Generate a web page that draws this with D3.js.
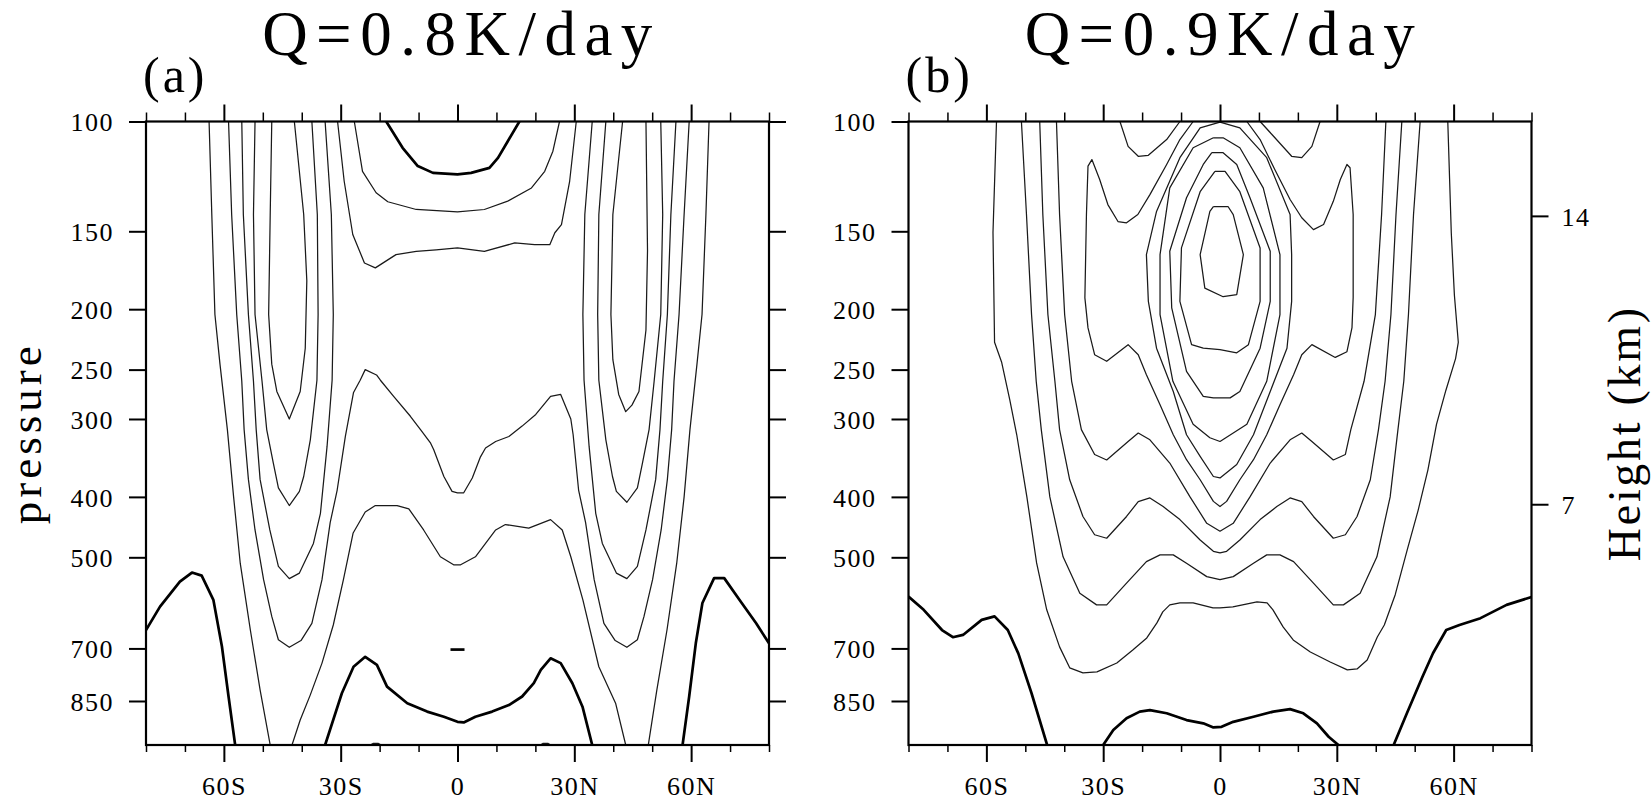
<!DOCTYPE html>
<html>
<head>
<meta charset="utf-8">
<script src="https://cdn.jsdelivr.net/npm/d3@7"></script>
<style>
  html, body { margin: 0; padding: 0; background: #fff; }
  svg { display: block; }
  text { font-family: "Liberation Serif", "Times New Roman", serif; fill: #000; }
</style>
</head>
<body>
<svg id="chart" width="1652" height="807"></svg>
<script>
// ---------- axis ticks and labels ----------
const pressureTicks = [100, 150, 200, 250, 300, 400, 500, 700, 850];
const latMajor = [-60, -30, 0, 30, 60];
const latMajorLabels = ["60S", "30S", "0", "30N", "60N"];
const latMinor = [-80, -70, -50, -40, -20, -10, 10, 20, 40, 50, 70, 80];
const heightKm = [14, 7];
const heightHpa = [141.7, 411];
const titles = ["Q=0.8K/day", "Q=0.9K/day"];
const panelTags = ["(a)", "(b)"];

// ---------- panel (a) contours: [latitude, pressure hPa] ----------
const a_cap = [[-18.3,100],[-14.1,110.2],[-10.2,117.9],[-6.3,120.9],[0,121.6],[3.5,120.9],[8.2,118.7],[10.4,114.4],[15.9,100]];
const a_c140 = [[-26.5,100],[-24.4,120.2],[-20.9,130.1],[-17.9,134.5],[-10.6,138.4],[0,139.6],[6.9,138.4],[12.9,134.2],[19.0,127.8],[22.4,120.2],[24.5,111.6],[26.2,100]];
const a_c160 = [[-30.8,100],[-29.1,124.7],[-26.9,151.8],[-23.9,168.6],[-21.1,171.7],[-15.8,163.5],[-10.6,161.5],[-5.5,160.6],[0,159.5],[6.9,161.5],[14.7,156.6],[19.8,157.6],[23.7,157.6],[25.0,150.8],[26.7,146.3],[28.8,124.7],[30.5,100]];
const a_u1S = [[-47.7,100],[-48.1,141],[-48.5,204],[-47.7,245],[-46.4,271],[-43.2,300],[-40.4,271],[-39.1,231],[-38.7,180],[-39.5,141],[-41.9,100]];
const a_u2S = [[-52.0,100],[-52.4,141],[-52.0,204],[-50.2,261],[-49.0,312],[-47.3,353],[-46.0,387],[-43.2,413],[-40.6,392],[-39.5,371],[-37.8,324],[-36.1,260],[-35.8,204],[-36.0,141],[-37.4,100]];
const a_u3S = [[-55.4,100],[-55.0,141],[-53.7,204],[-52.4,261],[-51.7,312],[-50.7,375],[-48.2,452],[-46.0,517],[-43.2,541],[-40.6,530],[-37.0,475],[-35.2,425],[-33.5,332],[-32.2,260],[-31.9,204],[-32.4,141],[-34.0,100]];
const a_u1N = [[42.4,100],[39.9,141],[39.4,204],[39.9,241],[41.4,274],[43.2,292],[44.8,285],[46.6,271],[48.4,216],[48.8,161],[48.4,100]];
const a_u2N = [[38.1,100],[36.3,141],[36.0,204],[36.3,260],[38.1,324],[39.8,371],[40.8,392],[43.5,408],[46.2,387],[47.5,353],[49.2,312],[50.5,261],[52.2,204],[52.7,141],[52.2,100]];
const a_u3N = [[34.6,100],[32.7,141],[32.2,204],[32.5,260],[33.8,332],[35.5,425],[37.2,475],[40.8,530],[43.5,541],[46.2,517],[48.4,452],[50.9,375],[52.0,312],[52.7,261],[53.9,204],[54.8,141],[56.1,100]];
const a_wide = [[-58.8,100],[-58.0,141],[-56.7,204],[-55.4,261],[-54.8,312],[-53.7,375],[-52.0,452],[-49.8,543],[-47.7,622],[-46.0,678],[-43.2,697],[-40.2,680],[-37.4,638],[-34.8,543],[-32.7,440],[-30.9,390],[-28.8,320],[-26.7,272],[-25.0,260],[-23.7,250],[-20.8,255],[-19.8,260],[-16.4,276],[-12.1,297],[-9.5,312],[-6.9,328],[-6.1,336],[-3.5,371],[-1.4,392],[0,394],[1.6,394],[3.8,373],[5.9,345],[7.2,334],[9.8,326],[13.2,320],[16.6,308],[20.1,295],[23.9,276],[26.5,274],[29.1,300],[29.7,318],[31.1,390],[32.9,440],[35.1,543],[37.6,638],[40.5,680],[43.5,697],[46.2,678],[47.9,622],[50.1,543],[52.3,452],[53.9,375],[55.0,312],[55.6,261],[56.9,204],[58.2,141],[59.5,100]];
const a_outerS = [[-63.8,100],[-63.1,141],[-62.3,204],[-61.0,245],[-59.1,312],[-57.5,400],[-55.8,511],[-53.2,654],[-50.7,816],[-48.1,1000]];
const a_outerN = [[64.6,100],[63.8,141],[62.8,204],[61.5,245],[59.7,312],[58.2,400],[56.3,511],[53.8,654],[51.2,816],[49.0,1000]];
const a_mid = [[-42.5,1000],[-40.4,912],[-37.8,831],[-34.8,739],[-31.9,642],[-29.3,543],[-26.8,457],[-23.7,423],[-21.1,413],[-15.5,413],[-12.5,418],[-8.7,452],[-4.4,499],[-1.0,514],[0.8,514],[4.6,499],[9.8,452],[12.3,443],[18.3,449],[23.9,435],[26.9,452],[29.1,499],[32.2,585],[36.3,749],[40.6,857],[43.2,1000]];
const a_blipS = [[-22.4,1000],[-21.6,994],[-20.4,994],[-19.6,1000]];
const a_blipN = [[21.3,1000],[22.0,994],[23.2,994],[23.9,1000]];
const a_polarS = [[-80,654],[-76.4,600],[-71.3,547],[-68.2,529],[-65.7,535],[-62.7,585],[-60.5,695],[-58.8,836],[-57.1,1000]];
const a_polarN = [[57.8,1000],[59.5,836],[61.2,687],[62.9,592],[65.9,540],[68.5,540],[72.4,585],[76.7,638],[80,687]];
const a_sfc = [[-34.0,1000],[-29.7,826],[-26.7,749],[-23.7,722],[-20.7,744],[-18.1,806],[-12.9,857],[-7.8,884],[-3.5,901],[0,918],[1.6,920],[4.6,901],[8.9,884],[13.2,863],[16.6,836],[19.6,796],[21.4,758],[23.9,726],[26.5,739],[29.5,796],[32.1,868],[34.6,1000]];
const a_dot = [[-1.8,703],[1.8,703]];

// ---------- panel (b) contours: [latitude, pressure hPa] ----------
const b_L4 = [[-1.7,137],[2.1,137],[3.4,141],[6.0,163.5],[4.3,189.5],[0.8,191],[-3.9,185],[-5.1,163.5],[-2.6,139.4],[-1.7,137]];
const b_L3 = [[-1.3,120.2],[1.3,120.2],[5.1,129.6],[10.3,159.5],[10.3,194.3],[7.3,228],[4.3,235],[0,232.3],[-4.3,231],[-7.3,228],[-10.3,194.3],[-9.9,159.5],[-5.1,129.6],[-1.3,120.2]];
const b_L2 = [[-2.1,112.2],[0.8,112.2],[4.3,117.2],[7.7,132.5],[12.9,161.5],[12.9,194.3],[10.3,231],[5.1,271],[2.6,277.5],[-1.7,277.5],[-4.3,276],[-8.6,251.7],[-12.4,199],[-12.9,161.5],[-8.6,132.5],[-4.3,117.2],[-2.1,112.2]];
const b_L1 = [[-1.7,106.2],[0.8,106.2],[5.1,110.2],[11.1,127.8],[15.4,163.5],[15.4,204],[12.0,261],[6.9,306],[0,326],[-2.6,321.5],[-6.9,306],[-12.1,261],[-15.4,204],[-15.4,163.5],[-12.9,127.8],[-6.9,110.2],[-1.7,106.2]];
const b_L0 = [[0,100.2],[5.1,102.4],[12.0,114.3],[18.0,141],[18.4,163.5],[18.4,194.3],[17.2,231],[12.9,271],[8.6,318],[4.3,355],[0,373],[-1.7,371],[-5.1,344.5],[-8.6,318],[-12.0,271],[-16.3,231],[-18.4,194.3],[-18.9,163.5],[-16.3,139.4],[-10.3,114.3],[-5.1,102.4],[0,100.2]];
const b_wave = [[-6.9,100],[-10.3,106.9],[-13.7,117.2],[-18.0,131],[-21.1,141],[-24.0,145.4],[-26.2,144.7],[-28.8,135.9],[-30.9,123.9],[-32.9,115.1],[-33.9,117.9],[-34.3,141],[-34.7,191.8],[-33.9,214.3],[-32.2,236.6],[-29.1,242.4],[-23.6,228],[-21.0,236.6],[-18.9,254.8],[-15.4,284.7],[-12.0,318],[-8.6,348.7],[-5.1,375.5],[-1.7,406.7],[0,414.6],
  [1.7,406.7],[5.1,375.5],[8.6,348.7],[12.0,318],[15.4,284.7],[18.9,254.8],[21.0,236.6],[23.6,228],[29.6,239],[32.6,234],[33.9,214],[34.2,191.6],[34.2,141],[33.4,118.6],[32.6,117.2],[30.9,123.9],[29.1,134.3],[26.6,146.3],[24.0,149.1],[21.0,142.7],[18.0,133.4],[14.1,119.5],[10.3,106.9],[6.9,100]];
const b_capS = [[-25.7,100],[-23.6,109.6],[-21.0,113.7],[-18.4,113.3],[-13.7,106.9],[-10.3,100]];
const b_capN = [[10.3,100],[13.4,105],[18.4,113.7],[21.0,114.3],[23.6,109.6],[25.7,100]];
const b_u4 = [[-42.0,100],[-41.2,141],[-39.9,204],[-38.1,261],[-35.6,312],[-32.2,342],[-29.1,349],[-23.6,326],[-21.0,316],[-18.0,324],[-12.9,353],[-7.7,400],[-3.4,441],[0,454],[3.4,441],[7.7,400],[12.9,353],[18.0,324],[21.0,316],[23.6,326],[29.1,349],[32.2,342],[33.6,312],[37.0,261],[39.9,204],[41.5,141],[42.6,100]];
const b_u3 = [[-46.3,100],[-45.5,141],[-44.2,204],[-42.4,261],[-41.2,312],[-38.6,375.5],[-35.2,430],[-32.2,460],[-29.1,466],[-24.0,430],[-21.0,407],[-18.0,401.5],[-14.6,414.6],[-10.3,435],[-5.1,469],[-1.7,489],[0,492],[1.7,489],[5.1,469],[10.3,435],[14.6,414.6],[18.0,401.5],[21.0,407],[24.0,430],[29.1,466],[32.2,460],[35.2,430],[38.6,375.5],[40.7,312],[42.4,261],[43.9,204],[45.2,141],[46.7,100]];
const b_u2 = [[-51.0,100],[-49.7,141],[-48.4,204],[-47.2,261],[-45.9,312],[-43.7,400],[-40.3,499],[-36.0,571],[-31.7,596],[-29.1,596],[-24.0,550],[-18.9,508],[-15.4,495.5],[-12.0,495.5],[-8.6,511],[-3.4,537],[0,543],[3.4,537],[8.6,511],[12.0,495.5],[15.4,495.5],[18.9,508],[24.0,550],[29.1,596],[31.7,596],[36.0,571],[40.3,499],[43.7,400],[45.7,312],[47.2,261],[48.4,204],[49.7,141],[51.4,100]];
const b_u1 = [[-57.4,100],[-58.3,150.7],[-57.9,226],[-56.1,243],[-54.0,279.4],[-52.2,318],[-49.6,400],[-47.1,510.5],[-44.5,607],[-41.2,696],[-38.6,752],[-35.2,766],[-31.6,763.5],[-26.5,738.6],[-22.4,704],[-18.8,673.5],[-16.2,637],[-14.7,611.7],[-12.9,596],[-10.3,591.7],[-6.9,591.7],[-1.8,602.8],[0,602.8],[3.3,600.5],[9.5,589.4],[12.1,591.7],[13.6,607],[16.2,646.5],[18.8,678.4],[23.2,709.2],[28.3,735.9],[32.7,757.9],[35.2,755.1],[37.8,730.5],[40.4,671],[42.2,642],[45.0,574],[48.1,486],[50.9,420],[53.4,362],[55.6,306],[58.0,270],[60.5,240],[61.2,226],[60.2,190],[59.4,151],[58.5,100]];
const b_polarS = [[-80,578],[-76.1,607],[-71.4,654],[-68.6,671.6],[-66.0,666],[-61.2,630],[-57.9,622],[-54.5,654],[-51.8,713],[-48.4,826],[-44.4,1000]];
const b_polarN = [[44.6,1000],[48.0,889.5],[52.0,777],[54.7,712.6],[58.1,654],[61.5,642],[66.9,626],[73.6,596],[80,579]];
const b_sfc = [[-30.0,1000],[-27.4,946],[-24.0,906],[-20.6,884],[-18.0,879],[-13.7,889.5],[-8.6,912],[-4.3,923],[-1.7,937],[0.4,935],[3.4,918],[8.6,901],[13.7,884],[18.0,876],[21.4,889.5],[24.9,923],[27.9,970],[30.4,1000]];

// thin and thick line groups per panel
const panels = [
  { thin: [a_c140, a_c160, a_u1S, a_u2S, a_u3S, a_u1N, a_u2N, a_u3N, a_wide, a_outerS, a_outerN, a_mid, a_blipS, a_blipN],
    thick: [a_cap, a_polarS, a_polarN, a_sfc, a_dot] },
  { thin: [b_L4, b_L3, b_L2, b_L1, b_L0, b_wave, b_capS, b_capN, b_u4, b_u3, b_u2, b_u1],
    thick: [b_polarS, b_polarN, b_sfc] }
];

// ---------- layout ----------
const svg = d3.select("#chart");
const W = 623, H = 623.5, TOP = 121.5;
const panelLeft = [146, 908.5];
const FONT = "Liberation Serif, Times New Roman, serif";

const x = d3.scaleLinear().domain([-80, 80]).range([0, W]);
const y = d3.scaleLog().domain([100, 1000]).range([0, H]);
const line = d3.line().x(d => x(d[0])).y(d => y(d[1]));

const defs = svg.append("defs");

function styleAxis(g, width) {
  g.select(".domain").remove();
  g.attr("font-family", FONT).attr("font-size", 26);
  g.selectAll(".tick line").attr("stroke", "#000").attr("stroke-width", width);
  g.selectAll(".tick text").attr("letter-spacing", 1.5).attr("fill", "#000");
}

panels.forEach((pd, i) => {
  const g = svg.append("g").attr("transform", `translate(${panelLeft[i]},${TOP})`);

  defs.append("clipPath").attr("id", "plotclip" + i)
    .append("rect").attr("width", W).attr("height", H);

  const c = g.append("g").attr("clip-path", `url(#plotclip${i})`);
  c.selectAll("path.thin").data(pd.thin).join("path")
    .attr("class", "thin").attr("d", line)
    .attr("fill", "none").attr("stroke", "#1a1a1a").attr("stroke-width", 1.25)
    .attr("stroke-linejoin", "round");
  c.selectAll("path.thick").data(pd.thick).join("path")
    .attr("class", "thick").attr("d", line)
    .attr("fill", "none").attr("stroke", "#000").attr("stroke-width", 2.7)
    .attr("stroke-linejoin", "round").attr("stroke-linecap", "butt");

  // left pressure axis
  g.append("g")
    .call(d3.axisLeft(y).tickValues(pressureTicks).tickFormat(d3.format("d")).tickSize(17).tickPadding(15))
    .call(a => styleAxis(a, 2))
    .call(a => a.selectAll(".tick text").attr("dy", "0.36em"));

  // bottom latitude axis
  g.append("g").attr("transform", `translate(0,${H})`)
    .call(d3.axisBottom(x).tickValues(latMajor).tickFormat(d => latMajorLabels[latMajor.indexOf(d)]).tickSize(17).tickPadding(15))
    .call(a => styleAxis(a, 2));
  g.append("g").attr("transform", `translate(0,${H})`)
    .call(d3.axisBottom(x).tickValues(latMinor).tickFormat("").tickSize(7))
    .call(a => styleAxis(a, 1.5));

  // top latitude ticks
  g.append("g")
    .call(d3.axisTop(x).tickValues(latMajor).tickFormat("").tickSize(17))
    .call(a => styleAxis(a, 2));
  g.append("g")
    .call(d3.axisTop(x).tickValues(latMinor).tickFormat("").tickSize(9))
    .call(a => styleAxis(a, 1.5));

  // right side: pressure ticks on (a), height axis on (b)
  if (i === 0) {
    g.append("g").attr("transform", `translate(${W},0)`)
      .call(d3.axisRight(y).tickValues(pressureTicks).tickFormat("").tickSize(17))
      .call(a => styleAxis(a, 2));
  } else {
    g.append("g").attr("transform", `translate(${W},0)`)
      .call(d3.axisRight(y).tickValues(heightHpa).tickFormat(d => heightKm[heightHpa.indexOf(d)]).tickSize(17).tickPadding(13))
      .call(a => styleAxis(a, 2))
      .call(a => a.selectAll(".tick text").attr("dy", "0.36em"));
  }

  // frame
  g.append("rect").attr("width", W).attr("height", H)
    .attr("fill", "none").attr("stroke", "#000").attr("stroke-width", 2.2);

  // title and panel tag
  svg.append("text")
    .attr("x", panelLeft[i] + W / 2 + 4).attr("y", 55)
    .attr("text-anchor", "middle")
    .attr("font-size", 63).attr("letter-spacing", 8.5)
    .text(titles[i]);
  svg.append("text")
    .attr("x", panelLeft[i] - 3).attr("y", 92)
    .attr("font-size", 50).attr("letter-spacing", 3)
    .text(panelTags[i]);
});

// axis titles
svg.append("text")
  .attr("transform", `translate(41,${TOP + H / 2}) rotate(-90)`)
  .attr("text-anchor", "middle")
  .attr("font-size", 45).attr("letter-spacing", 4)
  .text("pressure");
svg.append("text")
  .attr("transform", `translate(1640,${TOP + H / 2}) rotate(-90)`)
  .attr("text-anchor", "middle")
  .attr("font-size", 46).attr("letter-spacing", 2.7)
  .text("Height (km)");
</script>
</body>
</html>
